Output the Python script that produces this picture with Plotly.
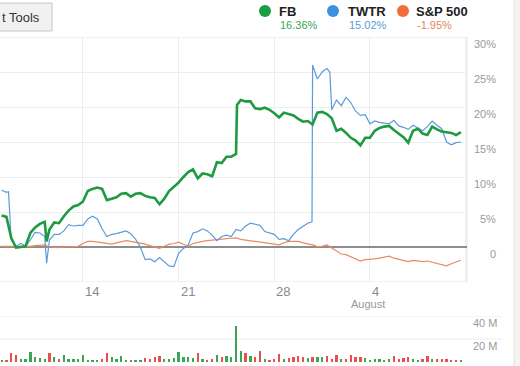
import plotly.graph_objects as go

# ---------------- data ----------------
# time axis: trading days, Jul 7 = 0, Jul 14 = 5, Jul 21 = 10, Jul 28 = 15, Aug 4 = 20
T = [0.75 + 0.25 * k for k in range(97)]

FB = [4.5, 4.3, 1.3, -0.1, 0.0, 0.1, 2.0, 2.8, 3.3, 3.6,
      2.5, 3.5, 3.4, 4.4, 5.2, 5.8, 6.0, 6.5, 8.0, 8.3,
      8.5, 8.3, 6.7, 6.9, 7.1, 7.6, 7.7, 7.2, 7.6, 7.7,
      7.3, 7.1, 7.0, 6.1, 6.9, 8.0, 8.6, 9.2, 10.0, 10.7,
      11.1, 9.8, 10.5, 10.4, 10.1, 12.1, 12.0, 12.9, 12.9, 13.3,
      21.0, 20.8, 20.8, 19.8, 19.7, 19.9, 19.6, 19.1, 18.5, 19.2,
      19.0, 18.8, 18.3, 17.9, 18.0, 17.5, 19.2, 19.3, 19.0, 18.4,
      16.6, 16.9, 16.3, 15.6, 15.2, 14.5, 15.6, 15.6, 16.6, 17.0,
      17.2, 17.3, 16.7, 16.2, 15.7, 14.9, 16.6, 16.9, 16.2, 16.0,
      17.2, 16.8, 16.5, 16.4, 16.3, 16.0, 16.4]
FB_EXTRA = [(3.10, 0.8), (13.05, 20.3)]

TWTR = [8.1, 7.8, 1.0, 0.1, 0.5, 0.1, 1.0, 2.1, 2.0, 1.5,
        1.0, 1.8, 1.8, 2.3, 3.2, 3.0, 3.1, 3.1, 4.0, 4.4,
        4.0, 2.6, 1.5, 1.8, 1.9, 2.1, 2.3, 1.9, 1.1, 0.0,
        -1.8, -1.7, -2.1, -1.5, -2.1, -2.7, -2.8, -0.9, -0.2, 0.3,
        2.0, 2.2, 2.6, 2.3, 1.7, 0.9, 1.5, 1.7, 1.5, 2.5,
        2.3, 3.0, 3.4, 3.2, 3.1, 2.2, 2.0, 1.8, 1.1, 1.2,
        0.9, 1.8, 2.5, 2.9, 3.4, 26.0, 24.0, 25.0, 25.5, 19.6,
        21.0, 20.2, 21.4, 20.6, 19.4, 18.8, 18.9, 17.6, 18.0, 17.8,
        17.7, 17.6, 18.1, 17.3, 17.1, 16.8, 17.4, 17.0, 16.6, 17.2,
        18.0, 17.4, 16.9, 15.0, 14.6, 14.9, 15.0]
TWTR_EXTRA = [(1.11, 7.9), (3.10, -2.3), (16.97, 3.6), (17.90, 25.0)]

SPX = [0.1, 0.1, 0.0, 0.0, 0.1, 0.1, 0.1, 0.2, 0.2, 0.3,
       0.0, -0.1, -0.1, 0.0, 0.0, 0.1, 0.1, 0.5, 0.8, 0.8,
       0.7, 0.6, 0.5, 0.4, 0.6, 0.8, 0.9, 0.8, 0.7, 0.5,
       0.4, 0.2, 0.05, -0.2, 0.1, 0.4, 0.5, 0.7, 0.4, 0.1,
       0.5, 0.7, 0.8, 0.9, 1.0, 1.0, 1.2, 1.2, 1.25, 1.3,
       1.1, 1.0, 0.9, 0.8, 0.7, 0.7, 0.6, 0.4, 0.3, 0.6,
       0.8, 0.8, 0.8, 0.6, 0.5, 0.3, 0.05, 0.1, 0.3, -0.1,
       -0.6, -1.0, -1.1, -1.4, -1.7, -2.0, -1.8, -1.8, -1.7, -1.6,
       -1.4, -1.3, -1.6, -1.8, -2.0, -2.1, -1.9, -2.0, -2.1, -2.0,
       -2.2, -2.4, -2.6, -2.7, -2.4, -2.1, -1.9]

VOL = [1.5, 2, 7.5, 6, 3, 2.5, 8.5, 4, 3.5, 3,
       8, 4, 3, 6, 3, 2.5, 3, 6, 2, 2,
       1.5, 3, 7.5, 4, 3, 5, 1.5, 1, 1.5, 2,
       3.5, 3, 4, 5.5, 3, 3, 3.5, 9, 4, 4,
       3.5, 8, 3, 2, 2.5, 6, 4.5, 5, 4.5, 31,
       10, 8, 5, 4.5, 10, 2.5, 2, 3, 7, 3,
       3.5, 4, 5, 4, 3.5, 4, 4.5, 4, 5, 3,
       6, 3, 3, 6, 4, 4, 3.5, 2, 2.5, 3,
       2, 3, 5, 2.5, 3.5, 4, 3, 2, 3, 5.5,
       3, 3, 2.5, 3, 1.5, 1.5, 1]

WEEK_T = [0, 5, 10, 15, 20, 25]
WEEK_LABELS = ["", "14", "21", "28", "4", ""]
MONTH_LABEL = "August"
Y_TICKS = [0, 5, 10, 15, 20, 25, 30]
VOL_TICKS = [20, 40]
BUTTON_TEXT = "t Tools"

LEGEND = [("FB", "16.36%"), ("TWTR", "15.02%"), ("S&P 500", "-1.95%")]

# ---------------- style ----------------
W, H = 520, 366
GREEN, BLUE, ORANGE = "#1e9b41", "#5b9bd9", "#e98a62"
DOT = ["#1a9e3f", "#3d8fe0", "#f26b3a"]
PCT = ["#3ea35c", "#5b9bd5", "#e5865e"]
GRID = "#ededed"
FONT = "Liberation Sans, Arial, sans-serif"


def px(x):
    return x / W


def py(y):
    return 1 - y / H


def merged(base, extra):
    pts = sorted(list(zip(T, base)) + list(extra))
    return [p[0] for p in pts], [p[1] for p in pts]


fig = go.Figure()
fig.add_trace(go.Scatter(x=T, y=SPX, mode="lines", line=dict(color=ORANGE, width=1.2),
                         xaxis="x", yaxis="y", hoverinfo="skip"))
tx, ty = merged(TWTR, TWTR_EXTRA)
fig.add_trace(go.Scatter(x=tx, y=ty, mode="lines", line=dict(color=BLUE, width=1.2),
                         xaxis="x", yaxis="y", hoverinfo="skip"))
fx, fy = merged(FB, FB_EXTRA)
fig.add_trace(go.Scatter(x=fx, y=fy, mode="lines", line=dict(color=GREEN, width=2.6),
                         xaxis="x", yaxis="y", hoverinfo="skip"))

bar_colors = ["#3aa655" if (k == 0 or FB[k] >= FB[k - 1]) else "#e5504f" for k in range(len(VOL))]
fig.add_trace(go.Bar(x=T, y=VOL, marker=dict(color=bar_colors, line=dict(width=0)),
                     width=0.12, xaxis="x2", yaxis="y2", hoverinfo="skip"))

XR = [0.664, 25.07]
XD = [0, px(467)]

shapes = []
shapes.append(dict(type="rect", xref="paper", yref="y", x0=-0.02, x1=XD[1], y0=-5, y1=30,
                   line=dict(color="#e3e3e3", width=1), layer="below"))
for v in VOL_TICKS:
    shapes.append(dict(type="line", xref="paper", yref="y2", x0=0, x1=px(502), y0=v, y1=v,
                       line=dict(color=GRID, width=1), layer="below"))
shapes.append(dict(type="rect", xref="paper", yref="paper", x0=-0.1, x1=px(52), y0=py(31), y1=py(3),
                   line=dict(color="#c6c6c6", width=1), fillcolor="#f1f1f1"))
shapes.append(dict(type="rect", xref="paper", yref="paper", x0=px(514), x1=1.05, y0=-0.05, y1=1.05,
                   line=dict(color="#e2e2e2", width=1), fillcolor="#f4f4f4"))
for cx, col in zip([265, 333, 403], DOT):
    shapes.append(dict(type="circle", xref="paper", yref="paper",
                       x0=px(cx - 6), x1=px(cx + 6), y0=py(17), y1=py(5),
                       line=dict(width=0), fillcolor=col))

ann = []
ann.append(dict(xref="paper", yref="paper", x=px(0), y=py(17), text=BUTTON_TEXT, showarrow=False,
                xanchor="left", yanchor="middle", font=dict(family=FONT, size=13, color="#333")))
for (name, pct), lx, col in zip(LEGEND, [277, 346, 414], PCT):
    ann.append(dict(xref="paper", yref="paper", x=px(lx), y=py(11), text="<b>%s</b>" % name,
                    showarrow=False, xanchor="left", yanchor="middle",
                    font=dict(family=FONT, size=13, color="#222")))
    ann.append(dict(xref="paper", yref="paper", x=px(lx + 1), y=py(25), text=pct,
                    showarrow=False, xanchor="left", yanchor="middle",
                    font=dict(family=FONT, size=11, color=col)))
for v in Y_TICKS:
    ann.append(dict(xref="paper", yref="y", x=px(498), y=v, yshift=-7,
                    text=("0" if v == 0 else "%d%%" % v), showarrow=False,
                    xanchor="right", yanchor="middle",
                    font=dict(family=FONT, size=11, color="#9a9a9a")))
for v in VOL_TICKS:
    ann.append(dict(xref="paper", yref="y2", x=px(499), y=v, yshift=-7,
                    text="%d M" % v, showarrow=False, xanchor="right", yanchor="middle",
                    font=dict(family=FONT, size=11, color="#9a9a9a")))
for t, lab in zip(WEEK_T, WEEK_LABELS):
    if lab:
        ann.append(dict(xref="x", yref="paper", x=t, y=py(291), text=lab, showarrow=False,
                        xanchor="left", yanchor="middle",
                        font=dict(family=FONT, size=13, color="#8a8a8a")))
ann.append(dict(xref="x", yref="paper", x=20, xshift=-2, y=py(304), text=MONTH_LABEL, showarrow=False,
                xanchor="center", yanchor="middle", font=dict(family=FONT, size=11, color="#9a9a9a")))

fig.update_layout(
    width=W, height=H, margin=dict(l=0, r=0, t=0, b=0),
    paper_bgcolor="white", plot_bgcolor="rgba(0,0,0,0)", showlegend=False,
    xaxis=dict(domain=XD, range=XR, tickvals=WEEK_T, showticklabels=False, ticks="",
               showgrid=True, gridcolor=GRID, gridwidth=1, zeroline=False, showline=False,
               anchor="y"),
    yaxis=dict(domain=[py(282), py(37)], range=[-5, 30], tickvals=list(range(-5, 31, 5)),
               showticklabels=False, ticks="", showgrid=True, gridcolor=GRID,
               zeroline=True, zerolinecolor="#8d8d8d", zerolinewidth=1.5, anchor="x"),
    xaxis2=dict(domain=XD, range=XR, visible=False, anchor="y2"),
    yaxis2=dict(domain=[0, py(316)], range=[-3.48, 40], visible=False, anchor="x2"),
    shapes=shapes, annotations=ann, bargap=0,
)

fig.write_html("out.html")
